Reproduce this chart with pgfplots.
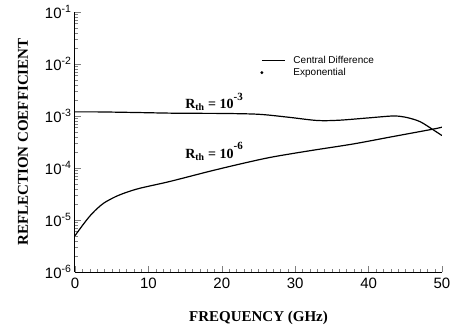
\documentclass[border=0pt]{standalone}
\usepackage{fontspec}
\setmainfont{Liberation Serif}
\setsansfont{Liberation Sans}
\usepackage{pgfplots}
\pgfplotsset{compat=1.18}
\begin{document}
\begin{tikzpicture}
\useasboundingbox (-75pt,-53pt) rectangle (378pt,272pt);
\begin{axis}[
  scale only axis, width=367pt, height=260pt,
  at={(0pt,0pt)}, anchor=south west,
  ymode=log, xmin=0, xmax=50, ymin=1e-6, ymax=1e-1,
  axis x line*=bottom, axis y line*=left,
  axis line style={-, line width=1pt},
  tick align=inside, major tick length=6pt, minor tick length=3pt,
  xtick={0,10,20,30,40,50}, minor x tick num=9,
  ytick={1e-6,1e-5,1e-4,1e-3,1e-2,1e-1},
  yticklabels={10\textsuperscript{-6},10\textsuperscript{-5},10\textsuperscript{-4},10\textsuperscript{-3},10\textsuperscript{-2},10\textsuperscript{-1}},
  /pgf/number format/assume math mode=true,
  ticklabel style={font=\sffamily\fontsize{15}{16}\selectfont},
  xticklabel style={yshift=-2pt},
  xlabel={\bfseries FREQUENCY (GHz)},
  ylabel={\bfseries REFLECTION COEFFICIENT},
  label style={font=\fontsize{15}{16}\selectfont},
  xlabel style={yshift=-16pt},
  ylabel style={yshift=10pt},
  legend style={draw=none, fill=none, at={(0.497,0.845)}, anchor=north west,
    font=\sffamily\fontsize{10}{11}\selectfont, row sep=-1pt,
    /tikz/every odd column/.append style={column sep=6pt}},
  legend cell align=left,
  every axis plot/.append style={line width=1.2pt},
]
\addplot[black, smooth, tension=0.5,
  legend image code/.code={\draw[black, line width=1.2pt] (0pt,0pt) -- (23pt,0pt);}] coordinates {
(0,1.2e-3) (3,1.2e-3) (8,1.17e-3) (14,1.13e-3) (20,1.12e-3) (25,1.08e-3)
(29,9.5e-4) (33,8.2e-4) (36,8.3e-4) (40,9.2e-4) (43.3,1.0e-3) (45,9.5e-4)
(47,7.8e-4) (49,5.2e-4) (50,4.2e-4)};
\addlegendentry{Central Difference}
\addlegendimage{black, legend image code/.code={\fill[black] (0pt,0pt) circle (0.7pt);}}
\addlegendentry{Exponential}
\addplot[black, smooth, tension=0.5] coordinates {
(0,5e-6) (1,7.8e-6) (2,1.18e-5) (3,1.65e-5) (4,2.15e-5) (5.5,2.8e-5) (7,3.4e-5) (8.9,4.1e-5)
(12.9,5.5e-5) (18,8.4e-5) (22,1.15e-4) (26.6,1.6e-4) (32,2.15e-4)
(37.9,2.9e-4) (43,3.95e-4) (48.8,5.6e-4) (50,6.1e-4)};
\node[font=\bfseries\fontsize{14}{16}\selectfont, anchor=base west, inner sep=0pt] at (axis cs:15.0,1.4e-3) {R\textsubscript{th} = 10\raisebox{1.3ex}{\fontsize{11}{12}\selectfont -3}};
\node[font=\bfseries\fontsize{14}{16}\selectfont, anchor=base west, inner sep=0pt] at (axis cs:15.0,1.55e-4) {R\textsubscript{th} = 10\raisebox{1.3ex}{\fontsize{11}{12}\selectfont -6}};
\end{axis}
\end{tikzpicture}
\end{document}
